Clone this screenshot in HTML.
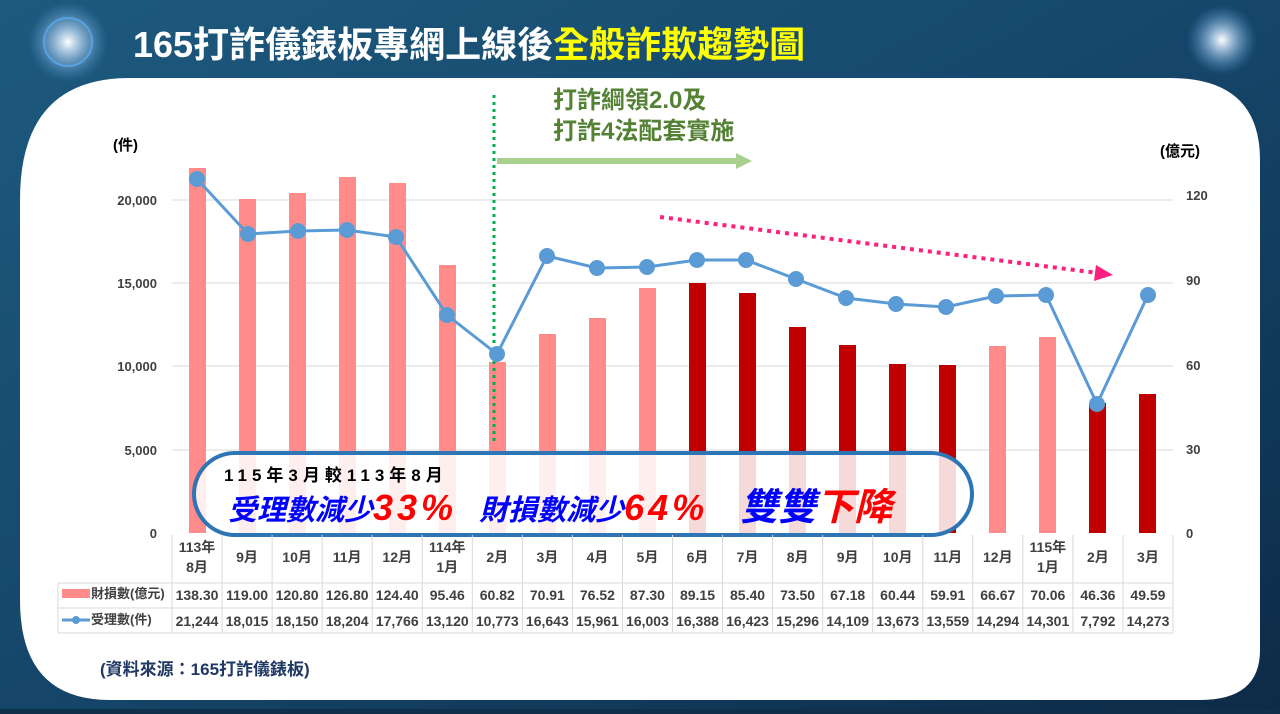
<!DOCTYPE html>
<html><head><meta charset="utf-8"><style>
body{margin:0;width:1280px;height:709px;overflow:hidden;background:#0f2f4a;font-family:"Liberation Sans","Noto Sans CJK TC",sans-serif}
</style></head><body>
<svg width="1280" height="709" xmlns="http://www.w3.org/2000/svg" font-family="Liberation Sans, Noto Sans CJK TC, sans-serif">
<defs>
<linearGradient id="bg" x1="0" y1="0" x2="1" y2="1"><stop offset="0" stop-color="#1d5a7e"/><stop offset="0.5" stop-color="#15466a"/><stop offset="1" stop-color="#0d2b48"/></linearGradient>
<radialGradient id="star"><stop offset="0" stop-color="#fff"/><stop offset="0.3" stop-color="#cfe6ff" stop-opacity="0.7"/><stop offset="1" stop-color="#5aa0e0" stop-opacity="0"/></radialGradient>
</defs>
<rect width="1280" height="709" fill="url(#bg)"/>
<circle cx="68" cy="42" r="40" fill="url(#star)"/>
<circle cx="68" cy="42" r="24" fill="none" stroke="#5ab0ff" stroke-width="2" opacity="0.7"/>
<circle cx="1222" cy="40" r="35" fill="url(#star)"/>
<path d="M20 200 Q20 78 130 78 L1170 78 Q1260 78 1260 160 L1260 650 Q1260 700 1200 700 L110 700 Q20 700 20 600 Z" fill="#fff"/>
<text x="133" y="57" font-size="36" font-weight="bold" fill="#fff">165打詐儀錶板專網上線後<tspan fill="#ffff00">全般詐欺趨勢圖</tspan></text>
<!-- grid -->
<g stroke="#d9d9d9" stroke-width="1">
<line x1="172" y1="200" x2="1173" y2="200"/><line x1="172" y1="283" x2="1173" y2="283"/><line x1="172" y1="366" x2="1173" y2="366"/><line x1="172" y1="450" x2="1173" y2="450"/>
</g>
<g font-size="13" fill="#404040" font-weight="bold" text-anchor="end">
<text x="157" y="205">20,000</text><text x="157" y="288">15,000</text><text x="157" y="371">10,000</text><text x="157" y="455">5,000</text><text x="157" y="538">0</text>
</g>
<g font-size="13" fill="#404040" font-weight="bold">
<text x="1186" y="200">120</text><text x="1186" y="285">90</text><text x="1186" y="370">60</text><text x="1186" y="454">30</text><text x="1186" y="538">0</text>
</g>
<text x="113" y="150" font-size="15" font-weight="bold" fill="#000">(件)</text>
<text x="1160" y="156" font-size="15" font-weight="bold" fill="#000">(億元)</text>
<!-- bars -->
<g>
<rect x="189" y="168" width="17" height="365" fill="#ff8b8b"/>
<rect x="239" y="199" width="17" height="334" fill="#ff8b8b"/>
<rect x="289" y="193" width="17" height="340" fill="#ff8b8b"/>
<rect x="339" y="177" width="17" height="356" fill="#ff8b8b"/>
<rect x="389" y="183" width="17" height="350" fill="#ff8b8b"/>
<rect x="439" y="265" width="17" height="268" fill="#ff8b8b"/>
<rect x="489" y="362" width="17" height="171" fill="#ff8b8b"/>
<rect x="539" y="334" width="17" height="199" fill="#ff8b8b"/>
<rect x="589" y="318" width="17" height="215" fill="#ff8b8b"/>
<rect x="639" y="288" width="17" height="245" fill="#ff8b8b"/>
<rect x="689" y="283" width="17" height="250" fill="#c00000"/>
<rect x="739" y="293" width="17" height="240" fill="#c00000"/>
<rect x="789" y="327" width="17" height="206" fill="#c00000"/>
<rect x="839" y="345" width="17" height="188" fill="#c00000"/>
<rect x="889" y="364" width="17" height="169" fill="#c00000"/>
<rect x="939" y="365" width="17" height="168" fill="#c00000"/>
<rect x="989" y="346" width="17" height="187" fill="#ff8b8b"/>
<rect x="1039" y="337" width="17" height="196" fill="#ff8b8b"/>
<rect x="1089" y="403" width="17" height="130" fill="#c00000"/>
<rect x="1139" y="394" width="17" height="139" fill="#c00000"/>
</g>
<!-- annotations -->
<line x1="494" y1="95" x2="494" y2="442" stroke="#00b050" stroke-width="3" stroke-dasharray="3,4"/>
<line x1="497" y1="161" x2="738" y2="161" stroke="#a9d18e" stroke-width="6"/>
<polygon points="736,153 752,161 736,169" fill="#a9d18e"/>
<text x="553" y="108" font-size="24" font-weight="bold" fill="#548235">打詐綱領2.0及</text>
<text x="553" y="139" font-size="24" font-weight="bold" fill="#548235">打詐4法配套實施</text>
<line x1="660" y1="217" x2="1098" y2="273" stroke="#ff1f7f" stroke-width="4" stroke-dasharray="4,5"/>
<polygon points="1096,265 1113,275 1094,281" fill="#ff1f7f"/>
<!-- line -->
<polyline fill="none" stroke="#5b9bd5" stroke-width="3" points="197,179 248,234 298,231 347,230 396,237 447,315 497,354 547,256 597,268 647,267 697,260 746,260 796,279 846,298 896,304 946,307 996,296 1046,295 1097,404 1148,295"/>
<g fill="#5b9bd5">
<circle cx="197" cy="179" r="8"/><circle cx="248" cy="234" r="8"/><circle cx="298" cy="231" r="8"/><circle cx="347" cy="230" r="8"/><circle cx="396" cy="237" r="8"/><circle cx="447" cy="315" r="8"/><circle cx="497" cy="354" r="8"/><circle cx="547" cy="256" r="8"/><circle cx="597" cy="268" r="8"/><circle cx="647" cy="267" r="8"/><circle cx="697" cy="260" r="8"/><circle cx="746" cy="260" r="8"/><circle cx="796" cy="279" r="8"/><circle cx="846" cy="298" r="8"/><circle cx="896" cy="304" r="8"/><circle cx="946" cy="307" r="8"/><circle cx="996" cy="296" r="8"/><circle cx="1046" cy="295" r="8"/><circle cx="1097" cy="404" r="8"/><circle cx="1148" cy="295" r="8"/>
</g>
<!-- oval -->
<rect x="194" y="453" width="778" height="82" rx="41" fill="#fff" fill-opacity="0.85" stroke="#2e75b6" stroke-width="4"/>
<text x="224" y="481" font-size="17" font-weight="bold" fill="#000" letter-spacing="5">115年3月較113年8月</text>
<text x="228" y="520" font-size="29" font-weight="bold" font-style="italic" fill="#0000ff">受理數減少<tspan fill="#ff0000" font-size="36" letter-spacing="4">33%</tspan><tspan dx="22">財損數減少</tspan><tspan fill="#ff0000" font-size="36" letter-spacing="4">64%</tspan><tspan dx="32" font-size="38" fill="#0000ff">雙雙</tspan><tspan font-size="38" fill="#ff0000">下降</tspan></text>
<!-- table -->
<g stroke="#d9d9d9" stroke-width="1" fill="none">
<rect x="58" y="583" width="1115" height="50"/>
<line x1="58" y1="608" x2="1173" y2="608"/>
<line x1="172" y1="535" x2="172" y2="633"/>
<line x1="172" y1="583" x2="1173" y2="583"/>
</g>
<g stroke="#d9d9d9" stroke-width="1" id="vl"></g>
<g font-size="14" fill="#404040" font-weight="bold" text-anchor="middle" id="tb"></g>
<rect x="62" y="589" width="28" height="9" fill="#ff8b8b"/>
<line x1="62" y1="620" x2="90" y2="620" stroke="#5b9bd5" stroke-width="3"/><circle cx="76" cy="620" r="4" fill="#5b9bd5"/>
<text x="91" y="598" font-size="13" font-weight="bold" fill="#404040">財損數(億元)</text>
<text x="91" y="624" font-size="13" font-weight="bold" fill="#404040">受理數(件)</text>
<text x="100" y="675" font-size="17" font-weight="bold" fill="#1f3864">(資料來源：165打詐儀錶板)</text>
</svg>
<script>
var labs=[["113年","8月"],["9月"],["10月"],["11月"],["12月"],["114年","1月"],["2月"],["3月"],["4月"],["5月"],["6月"],["7月"],["8月"],["9月"],["10月"],["11月"],["12月"],["115年","1月"],["2月"],["3月"]];
var a=["138.30","119.00","120.80","126.80","124.40","95.46","60.82","70.91","76.52","87.30","89.15","85.40","73.50","67.18","60.44","59.91","66.67","70.06","46.36","49.59"];
var b=["21,244","18,015","18,150","18,204","17,766","13,120","10,773","16,643","15,961","16,003","16,388","16,423","15,296","14,109","13,673","13,559","14,294","14,301","7,792","14,273"];
var ns="http://www.w3.org/2000/svg",tb=document.getElementById("tb"),vl=document.getElementById("vl");
function t(x,y,s){var e=document.createElementNS(ns,"text");e.setAttribute("x",x);e.setAttribute("y",y);e.textContent=s;tb.appendChild(e);}
for(var i=0;i<20;i++){var cx=197+i*50.05;var x=172+(i+1)*50.05;
var l=document.createElementNS(ns,"line");l.setAttribute("x1",x);l.setAttribute("x2",x);l.setAttribute("y1",535);l.setAttribute("y2",633);vl.appendChild(l);
if(labs[i].length==2){t(cx,552,labs[i][0]);t(cx,572,labs[i][1]);}else t(cx,562,labs[i][0]);
t(cx,600,a[i]);t(cx,626,b[i]);}
</script>
</body></html>
